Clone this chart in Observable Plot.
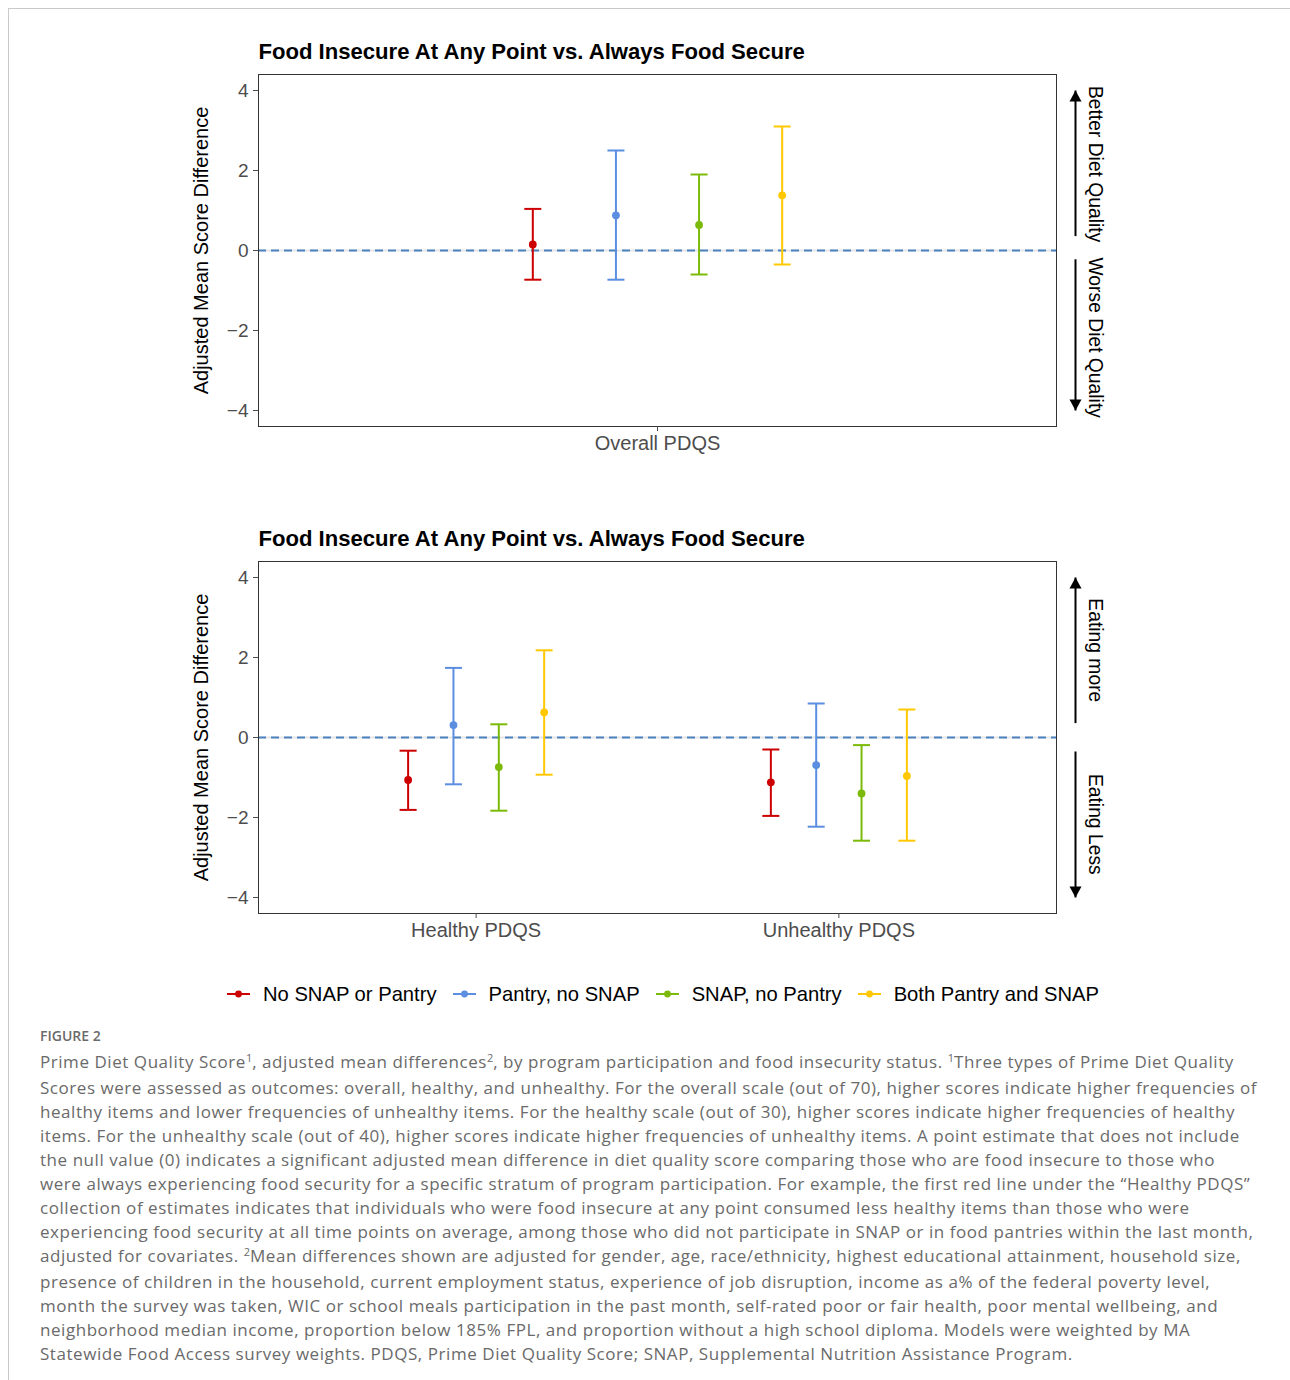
<!DOCTYPE html>
<html>
<head>
<meta charset="utf-8">
<script src="https://cdn.jsdelivr.net/npm/d3@7"></script>
<script src="https://cdn.jsdelivr.net/npm/@observablehq/plot@0.6"></script>
<style>
  html, body { margin: 0; padding: 0; background: #fff; }
  body { width: 1290px; height: 1380px; position: relative; overflow: hidden; }
  #frame { position: absolute; left: 8px; top: 8px; width: 1290px; height: 1380px;
           border-top: 1px solid #c9c9c9; border-left: 1px solid #c9c9c9; }
  .chart { position: absolute; left: 0; }
  #legend { position: absolute; left: 0; width: 1342px; top: 980px; height: 28px;
            display: flex; justify-content: center; align-items: center;
            font-family: "Liberation Sans", Arial, sans-serif; font-size: 20.2px; color: #000; }
  #legend .item { display: flex; align-items: center; margin-right: 16px; }
  #legend svg { margin-right: 13px; }
  #figlabel { position: absolute; left: 40px; top: 1027px; font-family: "Open Sans", sans-serif;
              font-weight: 600; font-size: 14px; color: #6a6a6a; line-height: 18px; }
  #caption { position: absolute; left: 40px; top: 1050px; font-family: "Open Sans", sans-serif;
             font-size: 17px; letter-spacing: 0.55px; color: #6a6a6a; line-height: 24px; white-space: nowrap; }
  #caption sup { font-size: 11px; vertical-align: 0; position: relative; top: -6px; letter-spacing: 0; }
</style>
</head>
<body>
<div id="frame"></div>
<div id="top" class="chart" style="top:0px"></div>
<div id="bottom" class="chart" style="top:487px"></div>
<div id="legend"></div>
<div id="figlabel">FIGURE 2</div>
<div id="caption"></div>
<script>
// ---------------- data ----------------
const groups = ["No SNAP or Pantry", "Pantry, no SNAP", "SNAP, no Pantry", "Both Pantry and SNAP"];
const groupColors = ["#CC0000", "#5B8DE0", "#7CBA0A", "#FFC800"];

const titleText = "Food Insecure At Any Point vs. Always Food Secure";
const yLabelText = "Adjusted Mean Score Difference";
const yTicks = [-4, -2, 0, 2, 4];

const topCategories = ["Overall PDQS"];
const overallEstimate = [0.15, 0.88, 0.64, 1.38];
const overallLower    = [-0.73, -0.73, -0.60, -0.35];
const overallUpper    = [1.04, 2.50, 1.90, 3.10];

const bottomCategories = ["Healthy PDQS", "Unhealthy PDQS"];
const healthyEstimate = [-1.06, 0.31, -0.74, 0.63];
const healthyLower    = [-1.81, -1.17, -1.83, -0.93];
const healthyUpper    = [-0.33, 1.74, 0.33, 2.18];
const unhealthyEstimate = [-1.12, -0.69, -1.40, -0.96];
const unhealthyLower    = [-1.96, -2.23, -2.58, -2.58];
const unhealthyUpper    = [-0.30, 0.85, -0.19, 0.70];

// right-hand direction annotations (segments in y units, label centre)
const topAnnotLabels = ["Better Diet Quality", "Worse Diet Quality"];
const topAnnotFrom = [0.36, -0.22];
const topAnnotTo = [4, -4];
const topAnnotLabelY = [2.16, -2.18];

const bottomAnnotLabels = ["Eating more", "Eating Less"];
const bottomAnnotFrom = [0.36, -0.35];
const bottomAnnotTo = [4, -4];
const bottomAnnotLabelY = [2.18, -2.17];

const dodgeWidth = 0.5;

// ---------------- helpers ----------------
function buildRows(categories, estimates, lowers, uppers) {
  const rows = [];
  categories.forEach((cat, ci) => {
    groups.forEach((g, gi) => {
      rows.push({
        category: cat,
        group: g,
        x: ci + 1 + (gi - (groups.length - 1) / 2) * (dodgeWidth / groups.length),
        est: estimates[ci][gi],
        lo: lowers[ci][gi],
        hi: uppers[ci][gi]
      });
    });
  });
  return rows;
}

const capSymbol = { draw(ctx) { ctx.moveTo(-8.5, 0); ctx.lineTo(8.5, 0); } };
const headUp = { draw(ctx) { ctx.moveTo(0, 0); ctx.lineTo(6, 11); ctx.lineTo(-6, 11); ctx.closePath(); } };
const headDown = { draw(ctx) { ctx.moveTo(0, 0); ctx.lineTo(6, -11); ctx.lineTo(-6, -11); ctx.closePath(); } };

const minusFmt = d => d < 0 ? "\u2212" + Math.abs(d) : String(d);

function makeChart(categories, rows, annots) {
  const xMax = categories.length + 0.6;
  const xAt = () => xMax;
  return Plot.plot({
    width: 1290,
    height: 470,
    marginLeft: 258,
    marginRight: 234,
    marginTop: 74,
    marginBottom: 44,
    style: { fontFamily: "'Liberation Sans', Arial, sans-serif", background: "transparent", overflow: "visible" },
    x: { domain: [0.4, xMax] },
    y: { domain: [-4.4, 4.4] },
    color: { domain: groups, range: groupColors },
    marks: [
      Plot.ruleY([0], { stroke: "#e6e6e6", strokeWidth: 2 }),
      Plot.ruleY([0], { stroke: "#4A82BE", strokeWidth: 1.8, strokeDasharray: "8,5" }),
      Plot.frame({ stroke: "#333", strokeWidth: 1 }),
      Plot.axisY({ ticks: yTicks, tickFormat: minusFmt, tickSize: 5, tickPadding: 5,
                   fontSize: 19, color: "#4d4d4d", label: null }),
      Plot.axisX({ ticks: d3.range(1, categories.length + 1), tickFormat: i => categories[i - 1],
                   tickSize: 5, tickPadding: 4, fontSize: 20, color: "#4d4d4d", label: null }),
      Plot.ruleX(rows, { x: "x", y1: "lo", y2: "hi", stroke: "group", strokeWidth: 2 }),
      Plot.dot(rows, { x: "x", y: "lo", symbol: capSymbol, stroke: "group", fill: "none", strokeWidth: 2 }),
      Plot.dot(rows, { x: "x", y: "hi", symbol: capSymbol, stroke: "group", fill: "none", strokeWidth: 2 }),
      Plot.dot(rows, { x: "x", y: "est", fill: "group", r: 3.9 }),
      Plot.text([titleText], { frameAnchor: "top-left", textAnchor: "start", lineAnchor: "bottom",
                 dy: -16, fontSize: 22.1, fontWeight: "bold", fill: "#000" }),
      Plot.text([yLabelText], { frameAnchor: "left", textAnchor: "middle", rotate: -90, dx: -57, fontSize: 20, fill: "#000" }),
      Plot.link(annots, { x1: xAt, x2: xAt, y1: "from", y2: "to", dx: 19, stroke: "#000", strokeWidth: 2 }),
      Plot.dot(annots.filter(a => a.to > 0), { x: xAt, y: "to", dx: 19, symbol: headUp, fill: "#000", stroke: "none" }),
      Plot.dot(annots.filter(a => a.to < 0), { x: xAt, y: "to", dx: 19, symbol: headDown, fill: "#000", stroke: "none" }),
      Plot.text(annots, { x: xAt, y: "labelY", text: "label", rotate: 90, dx: 39, fontSize: 19.3, fill: "#000" })
    ]
  });
}

function buildAnnots(labels, from, to, labelY) {
  return labels.map((l, i) => ({ label: l, from: from[i], to: to[i], labelY: labelY[i] }));
}

// ---------------- charts ----------------
const topRows = buildRows(topCategories, [overallEstimate], [overallLower], [overallUpper]);
const bottomRows = buildRows(bottomCategories,
  [healthyEstimate, unhealthyEstimate], [healthyLower, unhealthyLower], [healthyUpper, unhealthyUpper]);

document.getElementById("top").appendChild(
  makeChart(topCategories, topRows, buildAnnots(topAnnotLabels, topAnnotFrom, topAnnotTo, topAnnotLabelY)));
document.getElementById("bottom").appendChild(
  makeChart(bottomCategories, bottomRows, buildAnnots(bottomAnnotLabels, bottomAnnotFrom, bottomAnnotTo, bottomAnnotLabelY)));

// ---------------- legend ----------------
const legend = document.getElementById("legend");
groups.forEach((g, i) => {
  const item = document.createElement("div");
  item.className = "item";
  item.innerHTML = `<svg width="23" height="12"><line x1="0" x2="23" y1="6" y2="6" stroke="${groupColors[i]}" stroke-width="2"/><circle cx="11.5" cy="6" r="3.4" fill="${groupColors[i]}"/></svg><span>${g}</span>`;
  legend.appendChild(item);
});

// ---------------- caption ----------------
const captionLines = [
  "Prime Diet Quality Score<sup>1</sup>, adjusted mean differences<sup>2</sup>, by program participation and food insecurity status. <sup>1</sup>Three types of Prime Diet Quality",
  "Scores were assessed as outcomes: overall, healthy, and unhealthy. For the overall scale (out of 70), higher scores indicate higher frequencies of",
  "healthy items and lower frequencies of unhealthy items. For the healthy scale (out of 30), higher scores indicate higher frequencies of healthy",
  "items. For the unhealthy scale (out of 40), higher scores indicate higher frequencies of unhealthy items. A point estimate that does not include",
  "the null value (0) indicates a significant adjusted mean difference in diet quality score comparing those who are food insecure to those who",
  "were always experiencing food security for a specific stratum of program participation. For example, the first red line under the \u201CHealthy PDQS\u201D",
  "collection of estimates indicates that individuals who were food insecure at any point consumed less healthy items than those who were",
  "experiencing food security at all time points on average, among those who did not participate in SNAP or in food pantries within the last month,",
  "adjusted for covariates. <sup>2</sup>Mean differences shown are adjusted for gender, age, race/ethnicity, highest educational attainment, household size,",
  "presence of children in the household, current employment status, experience of job disruption, income as a% of the federal poverty level,",
  "month the survey was taken, WIC or school meals participation in the past month, self-rated poor or fair health, poor mental wellbeing, and",
  "neighborhood median income, proportion below 185% FPL, and proportion without a high school diploma. Models were weighted by MA",
  "Statewide Food Access survey weights. PDQS, Prime Diet Quality Score; SNAP, Supplemental Nutrition Assistance Program."
];
document.getElementById("caption").innerHTML = captionLines.map(l => `<div>${l}</div>`).join("");
</script>
</body>
</html>
